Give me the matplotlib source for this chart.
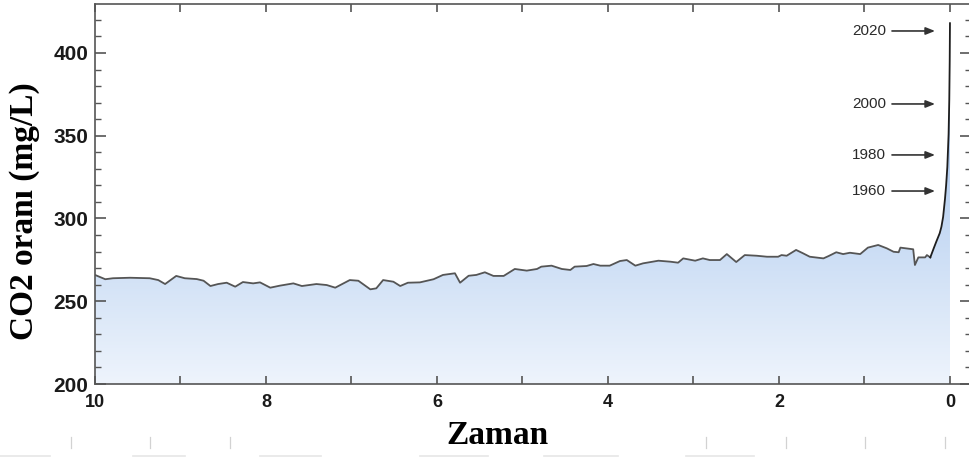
import numpy as np
import matplotlib
matplotlib.use("Agg")
import matplotlib.pyplot as plt
from matplotlib.ticker import MultipleLocator, FuncFormatter
from matplotlib.lines import Line2D

# Atmospheric CO2 record: time before present (thousand years) and concentration
kyr_before = [
    10.00, 9.88, 9.79, 9.59, 9.36, 9.26, 9.18, 9.05, 8.95, 8.81, 8.73, 8.65,
    8.56, 8.46, 8.36, 8.27, 8.15, 8.07, 7.95, 7.84, 7.68, 7.58, 7.41, 7.29,
    7.19, 7.02, 6.92, 6.78, 6.71, 6.63, 6.51, 6.43, 6.34, 6.20, 6.04, 5.93,
    5.79, 5.73, 5.63, 5.54, 5.44, 5.34, 5.22, 5.09, 4.95, 4.83, 4.78, 4.66,
    4.54, 4.44, 4.39, 4.25, 4.17, 4.09, 3.98, 3.86, 3.78, 3.68, 3.59, 3.41,
    3.27, 3.18, 3.12, 2.98, 2.89, 2.81, 2.69, 2.61, 2.50, 2.40, 2.26, 2.14,
    2.01, 1.97, 1.91, 1.80, 1.72, 1.64, 1.48, 1.42, 1.33, 1.25, 1.17, 1.05,
    0.96, 0.84, 0.74, 0.66, 0.60, 0.58, 0.43, 0.41, 0.37, 0.29, 0.27, 0.23,
    0.19, 0.16, 0.12, 0.10, 0.08, 0.058, 0.045, 0.031, 0.016, 0.008, 0.003,
    0.0,
]
co2_level = [
    265.9, 263.3, 263.9, 264.2, 263.9, 262.8, 260.4, 265.3, 263.9, 263.4, 262.4, 259.2,
    260.4, 261.2, 258.8, 261.6, 260.8, 261.4, 258.2, 259.4, 260.8, 259.2, 260.4, 259.8,
    258.2, 262.8, 262.4, 257.2, 257.8, 262.8, 261.8, 259.2, 261.2, 261.4, 263.3, 265.9,
    266.9, 261.2, 265.4, 265.9, 267.5, 265.3, 265.3, 269.5, 268.5, 269.5, 270.9, 271.5,
    269.5, 268.9, 270.9, 271.3, 272.5, 271.5, 271.5, 274.3, 274.9, 271.5, 272.9, 274.5,
    273.9, 273.3, 275.9, 274.5, 275.9, 274.9, 274.9, 278.5, 273.7, 277.9, 277.5, 276.9,
    276.9, 277.9, 277.5, 281.0, 279.0, 276.9, 275.9, 277.3, 279.6, 278.5, 279.3, 278.5,
    282.4, 284.0, 282.0, 279.9, 279.6, 282.4, 281.4, 271.9, 276.5, 276.5, 277.9, 276.5,
    282.0, 286.0, 291.1, 295.0, 301.0, 312.0, 320.0, 331.0, 351.0, 372.0, 395.0,
    418.0,
]

# Year markers on the recent rise
marker_years = ["2020", "2000", "1980", "1960"]
marker_levels = [413.3, 369.2, 338.4, 316.6]

x_ticks = [10, 8, 6, 4, 2, 0]
y_ticks = [200, 250, 300, 350, 400]

x = np.array(kyr_before)
y = np.array(co2_level)

fig = plt.figure(figsize=(9.69, 4.57), dpi=100)
ax = fig.add_axes([95 / 969, 73 / 457, 876 / 969, 380 / 457])
ax.set_xlim(10, -0.246)
ax.set_ylim(200, 429.6)

# Vertical gradient fill under the curve
bottom_rgb = np.array([238, 244, 252]) / 255
top_rgb = np.array([140, 180, 232]) / 255
t = np.linspace(0, 1, 256)[:, None, None]
grad = bottom_rgb[None, None, :] * (1 - t) + top_rgb[None, None, :] * t
area = ax.fill_between(x, y, 200, facecolor="none", edgecolor="none")
im = ax.imshow(grad, extent=[10, 0, 200, 429.6], origin="lower",
               aspect="auto", zorder=1, interpolation="bilinear")
im.set_clip_path(area.get_paths()[0], transform=ax.transData)

# Curve
old = x >= 0.23
ax.plot(x[old], y[old], color="#555555", lw=1.3, zorder=3)
ax.plot(x[x <= 0.23], y[x <= 0.23], color="#1e1e1e", lw=1.3, zorder=3)

# Year arrows
for label, level in zip(marker_years, marker_levels):
    ax.annotate("", xy=(0.175, level), xytext=(0.678, level),
                arrowprops=dict(arrowstyle="-|>,head_length=0.55,head_width=0.22",
                                color="#333333", lw=1.2, shrinkA=0, shrinkB=0),
                zorder=4)
    ax.text(0.749, level, label, ha="right", va="center", fontsize=11,
            family=["Liberation Sans", "DejaVu Sans"], color="#2a2a2a", zorder=4)

# Axes styling
for s in ax.spines.values():
    s.set_color("#555555")
    s.set_linewidth(1.2)

ax.xaxis.set_major_locator(MultipleLocator(1))
ax.xaxis.set_major_formatter(FuncFormatter(
    lambda v, p: f"{int(round(v))}" if int(round(v)) in x_ticks and abs(v - round(v)) < 1e-6 else ""))
ax.yaxis.set_major_locator(MultipleLocator(50))
ax.yaxis.set_minor_locator(MultipleLocator(10))
ax.set_yticks(y_ticks)

ax.tick_params(axis="x", which="both", direction="in", length=6, width=1.2,
               color="#555555", top=True, pad=7)
ax.tick_params(axis="y", which="major", direction="in", length=8, width=1.2,
               color="#555555", right=True, pad=5)
ax.tick_params(axis="y", which="minor", direction="in", length=4.3, width=1.0,
               color="#555555", right=True)

for lab in ax.get_yticklabels():
    lab.set_family(["Liberation Sans", "DejaVu Sans"])
    lab.set_fontweight("bold")
    lab.set_fontsize(15)
    lab.set_color("#1a1a1a")
for lab in ax.get_xticklabels():
    lab.set_family(["Liberation Sans Narrow", "Liberation Sans", "DejaVu Sans"])
    lab.set_fontweight("bold")
    lab.set_fontsize(13)
    lab.set_color("#1a1a1a")

ax.set_xlabel("Zaman", family=["Liberation Serif", "DejaVu Serif"],
              fontweight="bold", fontsize=24, color="black")
ax.xaxis.set_label_coords(0.459, -0.095)
ax.set_ylabel("CO2 oranı (mg/L)", family=["Liberation Serif", "DejaVu Serif"],
              fontweight="bold", fontsize=24, color="black")
ax.yaxis.set_label_coords(-0.063, 0.455)

# Faint marks along the lower edge
for px in [71, 150, 230, 706, 786, 865, 945]:
    fig.add_artist(Line2D([px / 969, px / 969], [1 - 437 / 457, 1 - 448 / 457],
                          color="#d2d2d2", lw=0.9))
for a, b in [(0, 50), (133, 185), (260, 321), (420, 488), (544, 618), (686, 754)]:
    fig.add_artist(Line2D([a / 969, b / 969], [1 - 455.5 / 457] * 2,
                          color="#e6e6e6", lw=1.2))

fig.savefig("out.png", dpi=100)
